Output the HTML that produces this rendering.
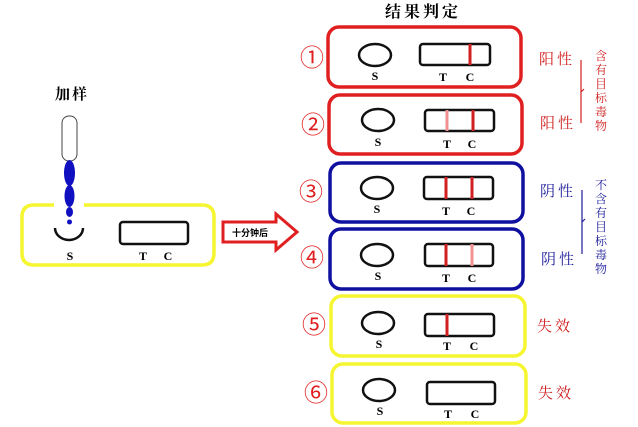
<html><body style="margin:0;background:#fff">
<svg width="638" height="427" xmlns="http://www.w3.org/2000/svg" style="font-family:'Liberation Serif','Noto Serif CJK SC',serif">
<text x="423" y="17" font-size="16" text-anchor="middle" font-weight="bold" letter-spacing="3">结果判定</text>
<text x="72" y="99" font-size="15" text-anchor="middle" font-weight="bold" letter-spacing="2">加样</text>
<path d="M54 205 H34 Q22 205 22 217 V253 Q22 265 34 265 H202 Q214 265 214 253 V217 Q214 205 202 205 H84" fill="none" stroke="#f5f530" stroke-width="3.5"/>
<rect x="62" y="116" width="15" height="45" rx="7" fill="#fff" stroke="#444" stroke-width="1"/>
<ellipse cx="69.5" cy="173" rx="5.5" ry="13" fill="#1010c0"/>
<ellipse cx="69.5" cy="196" rx="5" ry="11" fill="#1010c0"/>
<ellipse cx="69.5" cy="212" rx="3.5" ry="5" fill="#1010c0"/>
<circle cx="69.5" cy="222" r="2.5" fill="#1010c0"/>
<path d="M55 228 A14 12 0 0 0 83 228" fill="none" stroke="#111" stroke-width="2.5"/>
<text x="70" y="260" font-size="12" font-weight="bold" text-anchor="middle">S</text>
<rect x="120" y="222" width="68" height="22" rx="3" fill="none" stroke="#111" stroke-width="2.5"/>
<text x="143" y="260" font-size="12" font-weight="bold" text-anchor="middle">T</text>
<text x="168" y="260" font-size="12" font-weight="bold" text-anchor="middle">C</text>
<path d="M223 222 H276 V214 L297 232 L276 250 V242 H223 Z" fill="#fff" stroke="#e02020" stroke-width="3"/>
<text x="250" y="236" font-size="9" font-weight="bold" text-anchor="middle" font-family="'Noto Sans CJK SC',sans-serif">十分钟后</text>
<g font-size="12" font-weight="bold" text-anchor="middle">
<rect x="328" y="27" width="193" height="60" rx="11" fill="none" stroke="#e02020" stroke-width="3.5"/>
<ellipse cx="375" cy="55" rx="16" ry="11" fill="none" stroke="#111" stroke-width="2.5"/>
<text x="375" y="80">S</text><rect x="420" y="44" width="70" height="21" rx="3" fill="none" stroke="#111" stroke-width="2.5"/>
<line x1="470" y1="44" x2="470" y2="65" stroke="#d02020" stroke-width="3"/>
<text x="443" y="81">T</text><text x="470" y="81">C</text>

<rect x="329" y="95" width="193" height="59" rx="11" fill="none" stroke="#e02020" stroke-width="3.5"/>
<ellipse cx="378" cy="120" rx="16" ry="11" fill="none" stroke="#111" stroke-width="2.5"/>
<text x="378" y="146">S</text><rect x="425" y="110" width="69" height="21" rx="3" fill="none" stroke="#111" stroke-width="2.5"/>
<line x1="447" y1="110" x2="447" y2="131" stroke="#f09090" stroke-width="3"/>
<line x1="473" y1="110" x2="473" y2="131" stroke="#d02020" stroke-width="3"/>
<text x="447" y="148">T</text><text x="472" y="148">C</text>

<rect x="330" y="163" width="193" height="59" rx="11" fill="none" stroke="#1010a0" stroke-width="3.5"/>
<ellipse cx="377" cy="188" rx="16" ry="11" fill="none" stroke="#111" stroke-width="2.5"/>
<text x="377" y="213">S</text><rect x="424" y="177" width="69" height="22" rx="3" fill="none" stroke="#111" stroke-width="2.5"/>
<line x1="446" y1="177" x2="446" y2="199" stroke="#d02020" stroke-width="3"/>
<line x1="472" y1="177" x2="472" y2="199" stroke="#d02020" stroke-width="3"/>
<text x="446" y="215">T</text><text x="471" y="215">C</text>

<rect x="330" y="229" width="193" height="60" rx="11" fill="none" stroke="#1010a0" stroke-width="3.5"/>
<ellipse cx="377" cy="255" rx="16" ry="11" fill="none" stroke="#111" stroke-width="2.5"/>
<text x="378" y="280">S</text><rect x="425" y="244" width="68" height="22" rx="3" fill="none" stroke="#111" stroke-width="2.5"/>
<line x1="446" y1="244" x2="446" y2="266" stroke="#d02020" stroke-width="3"/>
<line x1="472" y1="244" x2="472" y2="266" stroke="#f09090" stroke-width="3"/>
<text x="446" y="282">T</text><text x="472" y="282">C</text>

<rect x="331" y="296" width="194" height="60" rx="11" fill="none" stroke="#f5f530" stroke-width="3.5"/>
<ellipse cx="378" cy="323" rx="16" ry="11" fill="none" stroke="#111" stroke-width="2.5"/>
<text x="379" y="348">S</text><rect x="425" y="314" width="69" height="22" rx="3" fill="none" stroke="#111" stroke-width="2.5"/>
<line x1="447" y1="314" x2="447" y2="336" stroke="#d02020" stroke-width="3"/>
<text x="447" y="350">T</text><text x="474" y="350">C</text>

<rect x="332" y="364" width="194" height="59" rx="11" fill="none" stroke="#f5f530" stroke-width="3.5"/>
<ellipse cx="379" cy="390" rx="16" ry="11" fill="none" stroke="#111" stroke-width="2.5"/>
<text x="380" y="415">S</text><rect x="427" y="382" width="68" height="22" rx="3" fill="none" stroke="#111" stroke-width="2.5"/>
<text x="448" y="418">T</text><text x="475" y="418">C</text>
</g>
<g font-size="24" fill="#e02020" text-anchor="middle" font-family="'Noto Sans CJK SC',sans-serif">
<text x="312" y="66">①</text><text x="313" y="133">②</text><text x="311" y="200">③</text>
<text x="312" y="266">④</text><text x="314" y="333">⑤</text><text x="316" y="401">⑥</text>
</g>
<g font-size="15" text-anchor="middle" font-family="'Noto Serif CJK SC',serif" letter-spacing="3">
<text x="557" y="64" fill="#d02020">阳性</text><text x="558" y="128" fill="#d02020">阳性</text>
<text x="558" y="196" fill="#1a1a9a">阴性</text><text x="559" y="264" fill="#1a1a9a">阴性</text>
<text x="555" y="331" fill="#d02020">失效</text><text x="556" y="398" fill="#d02020">失效</text>
</g>
<path d="M581 60 V123 M581 92 L584 89" stroke="#d02020" fill="none" stroke-width="1.2"/>
<path d="M582 190 V254 M582 222 L585 219" stroke="#1a1a9a" fill="none" stroke-width="1.2"/>
<g font-size="12" text-anchor="middle" font-family="'Noto Serif CJK SC',serif">
<text x="601" y="60" fill="#d02020">含</text><text x="601" y="74" fill="#d02020">有</text><text x="601" y="88" fill="#d02020">目</text>
<text x="601" y="102" fill="#d02020">标</text><text x="601" y="116" fill="#d02020">毒</text><text x="601" y="130" fill="#d02020">物</text>
<text x="601" y="189" fill="#1a1a9a">不</text><text x="601" y="203" fill="#1a1a9a">含</text><text x="601" y="217" fill="#1a1a9a">有</text>
<text x="601" y="231" fill="#1a1a9a">目</text><text x="601" y="245" fill="#1a1a9a">标</text><text x="601" y="259" fill="#1a1a9a">毒</text><text x="601" y="273" fill="#1a1a9a">物</text>
</g>
</svg>
</body></html>
